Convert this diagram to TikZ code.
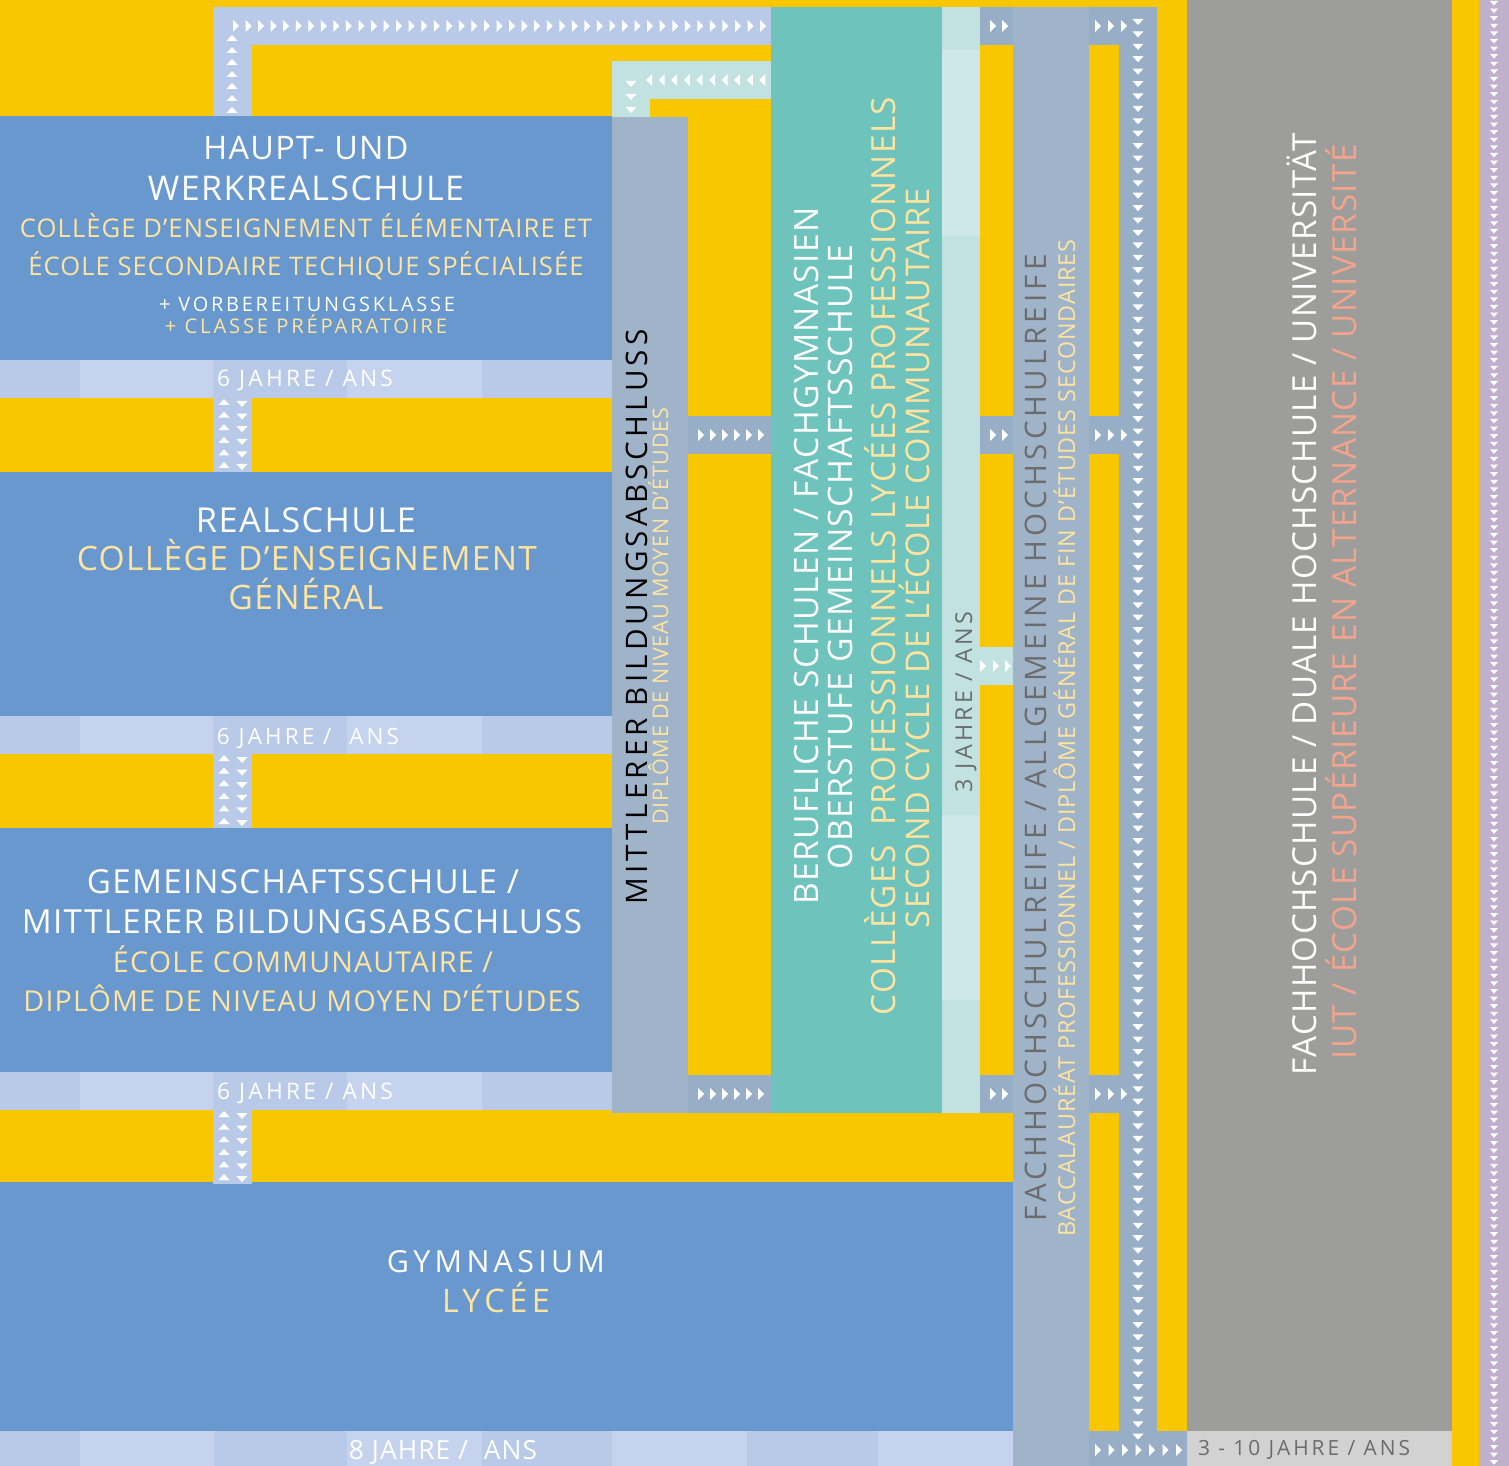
\documentclass[tikz,border=0pt]{standalone}
\usepackage{fontspec}
\usepackage{graphicx}
\setmainfont[LetterSpace=4]{Open Sans}
\newfontfamily\widefont[LetterSpace=14]{Open Sans}

\definecolor{yel}{HTML}{F9C700}
\definecolor{boxblue}{HTML}{6898CE}
\definecolor{barA}{HTML}{B9CAE9}
\definecolor{barB}{HTML}{C6D3EE}
\definecolor{colgray}{HTML}{A0B4C9}
\definecolor{band}{HTML}{98AEC7}
\definecolor{tealc}{HTML}{6EC3BC}
\definecolor{ltealA}{HTML}{C1E2E1}
\definecolor{ltealB}{HTML}{CEE8E9}
\definecolor{grayc}{HTML}{9D9D9B}
\definecolor{labgray}{HTML}{D2D2D2}
\definecolor{lav}{HTML}{BFB1CE}
\definecolor{paleyel}{HTML}{FFE4A0}
\definecolor{salmon}{HTML}{F3A48C}
\definecolor{darktxt}{HTML}{6C6C6C}

\newlength\pxu
\setlength\pxu{0.02cm}
\newcommand\fit[2]{\resizebox{#1\pxu}{!}{#2}}

\tikzset{
  htxt/.style={anchor=base, inner sep=0pt},
  vtxt/.style={anchor=base, inner sep=0pt, rotate=90},
  rtri/.pic={\fill[white] (-3,-6) -- (3,0) -- (-3,6) -- cycle;},
  ltri/.pic={\fill[white] (3,-6) -- (-3,0) -- (3,6) -- cycle;},
  utri/.pic={\fill[white] (-5.5,3) -- (0,-3) -- (5.5,3) -- cycle;},
  dtri/.pic={\fill[white] (-5.5,-3) -- (0,3) -- (5.5,-3) -- cycle;},
  stri/.pic={\fill[white] (-4,-2) -- (0,2.5) -- (4,-2) -- cycle;}
}

\begin{document}
\begin{tikzpicture}[x=0.02cm,y=-0.02cm]
        % Background
        \fill[yel] (0,0) rectangle (1509,1466);
        \useasboundingbox (0,0) rectangle (1509,1466);

        % School blocks
        \fill[boxblue] (0,116) rectangle (612,360);
        \fill[boxblue] (0,472) rectangle (612,716);
        \fill[boxblue] (0,828) rectangle (612,1072);
        \fill[boxblue] (0,1182) rectangle (1013,1431);

        % Duration bars
        \foreach \y in {360,716,1072}
          \foreach \a/\b/\c in {0/80/barA,80/213/barB,213/347/barA,347/482/barB,482/612/barA}
            \fill[\c] (\a,\y) rectangle (\b,\y+38);
        \foreach \a/\b/\c in {0/80/barA,80/214/barB,214/347/barA,347/482/barB,482/612/barA,612/747/barB,747/878/barA,878/1013/barB}
          \fill[\c] (\a,1431) rectangle (\b,1466);

        % Links between blocks
        \foreach \y in {398,754,1110}
          \fill[barA] (213,\y) rectangle (252,\y+74);
        \fill[barA] (213,7) rectangle (771,45);
        \fill[barA] (213,7) rectangle (252,116);
        \fill[ltealA] (612,61) rectangle (771,99);
        \fill[ltealA] (612,61) rectangle (650,117);

        % Columns
        \fill[colgray] (612,117) rectangle (688,1113);
        \fill[band] (688,416) rectangle (771,454);
        \fill[band] (688,1075) rectangle (771,1113);
        \fill[tealc] (771,7) rectangle (942,1113);
        \foreach \a/\b/\c in {7/50/ltealA,50/236/ltealB,236/815/ltealA,815/1000/ltealB,1000/1113/ltealA}
          \fill[\c] (942,\a) rectangle (980,\b);
        \fill[band] (980,7) rectangle (1013,45);
        \fill[band] (980,416) rectangle (1013,454);
        \fill[band] (980,1075) rectangle (1013,1113);
        \fill[ltealA] (980,647) rectangle (1013,685);
        \fill[colgray] (1013,7) rectangle (1089,1466);
        \fill[band] (1089,7) rectangle (1157,45);
        \fill[band] (1089,416) rectangle (1119,454);
        \fill[band] (1089,1075) rectangle (1119,1113);
        \fill[band] (1089,1431) rectangle (1187,1466);
        \fill[band] (1119,7) rectangle (1157,1466);
        \fill[grayc] (1187,0) rectangle (1452,1431);
        \fill[labgray] (1187,1431) rectangle (1452,1466);
        \fill[lav] (1479,0) rectangle (1509,1466);

        % Arrow marks
        \foreach \i in {0,...,42} \pic at (236+\i*12.55,26) {rtri};
        \foreach \y in {38,50,...,110} \pic at (232,\y) {utri};
        \foreach \i in {0,...,9} \pic at (649+\i*12.6,80) {ltri};
        \foreach \y in {84,97,110} \pic at (631,\y) {dtri};
        \foreach \y in {398,754,1110}
          \foreach \k in {0,...,5} {
            \pic at (224,\y+4+\k*12.6) {utri};
            \pic at (242,\y+6+\k*12.6) {dtri};
          }
        \foreach \i in {0,...,5} {
          \pic at (701+\i*12,435) {rtri};
          \pic at (701+\i*12,1094) {rtri};
        }
        \foreach \y in {26,435,1094} {
          \pic at (993,\y) {rtri};
          \pic at (1005,\y) {rtri};
          \pic at (1098,\y) {rtri};
          \pic at (1111,\y) {rtri};
          \pic at (1124,\y) {rtri};
        }
        \foreach \x in {983,996,1008} \pic at (\x,666) {rtri};
        \foreach \i in {0,...,114} \pic at (1138,22+\i*12.41) {dtri};
        \foreach \i in {0,...,6} \pic at (1098+\i*13.5,1450) {rtri};
        \foreach \i in {0,...,192} \pic at (1494,3+\i*7.6) {stri};

        % Haupt- und Werkrealschule
        \node[htxt, text=white] (haupt1) at (306,160) {\fit{205}{HAUPT- UND}};
        \node[htxt, text=white] (haupt2) at (306,201) {\fit{316}{WERKREALSCHULE}};
        \node[htxt, text=paleyel] (hauptfr1) at (306,238) {\fit{572}{COLLÈGE D’ENSEIGNEMENT ÉLÉMENTAIRE ET}};
        \node[htxt, text=paleyel] (hauptfr2) at (306,276) {\fit{555}{ÉCOLE SECONDAIRE TECHIQUE SPÉCIALISÉE}};
        \node[htxt, text=white] (vorb) at (307,312) {\fit{296}{\widefont + VORBEREITUNGSKLASSE}};
        \node[htxt, text=paleyel] (prep) at (306,334) {\fit{282}{\widefont + CLASSE PRÉPARATOIRE}};
        \node[htxt, text=white] (jahre1) at (305,387) {\fit{176}{\widefont 6 JAHRE / ANS}};

        % Realschule
        \node[htxt, text=white] (real1) at (306,533) {\fit{220}{REALSCHULE}};
        \node[htxt, text=paleyel] (realfr1) at (307,571) {\fit{460}{COLLÈGE D’ENSEIGNEMENT}};
        \node[htxt, text=paleyel] (realfr2) at (306,610) {\fit{155}{GÉNÉRAL}};
        \node[htxt, text=white] (jahre2) at (308,744) {\fit{182}{\widefont 6 JAHRE / ~ANS}};

        % Gemeinschaftsschule
        \node[htxt, text=white] (gem1) at (303,893) {\fit{432}{GEMEINSCHAFTSSCHULE /}};
        \node[htxt, text=white] (gem2) at (302,933) {\fit{560}{MITTLERER BILDUNGSABSCHLUSS}};
        \node[htxt, text=paleyel] (gemfr1) at (303,972) {\fit{380}{ÉCOLE COMMUNAUTAIRE /}};
        \node[htxt, text=paleyel] (gemfr2) at (302,1011) {\fit{557}{DIPLÔME DE NIVEAU MOYEN D’ÉTUDES}};
        \node[htxt, text=white] (jahre3) at (305,1099) {\fit{176}{\widefont 6 JAHRE / ANS}};

        % Gymnasium
        \node[htxt, text=white] (gym1) at (496,1272) {\fit{218}{\widefont GYMNASIUM}};
        \node[htxt, text=paleyel] (gymfr1) at (496,1312) {\fit{108}{\widefont LYCÉE}};
        \node[htxt, text=white] (jahre4) at (443,1459) {\fit{188}{8 JAHRE / ~ANS}};

        % Vertical labels
        \node[vtxt, text=black] (mba1) at (647,617) {\fit{575}{\widefont MITTLERER BILDUNGSABSCHLUSS}};
        \node[vtxt, text=paleyel] (mbafr1) at (668,616) {\fit{417}{DIPLÔME DE NIVEAU MOYEN D’ÉTUDES}};
        \node[vtxt, text=white] (beruf1) at (818,556) {\fit{697}{BERUFLICHE SCHULEN / FACHGYMNASIEN}};
        \node[vtxt, text=white] (beruf2) at (852,557) {\fit{625}{OBERSTUFE GEMEINSCHAFTSSCHULE}};
        \node[vtxt, text=paleyel] (berufr1) at (895,556) {\fit{918}{COLLÈGES ~PROFESSIONNELS LYCÉES PROFESSIONNELS}};
        \node[vtxt, text=paleyel] (berufr2) at (929,558) {\fit{740}{SECOND CYCLE DE L’ÉCOLE COMMUNAUTAIRE}};
        \node[vtxt, text=darktxt] (jahre5) at (972,702) {\fit{180}{\widefont 3 JAHRE / ANS}};
        \node[vtxt, text=darktxt] (fhr1) at (1046,738) {\fit{967}{\widefont FACHHOCHSCHULREIFE / ALLGEMEINE HOCHSCHULREIFE}};
        \node[vtxt, text=paleyel] (fhrfr1) at (1075,738) {\fit{997}{BACCALAURÉAT PROFESSIONNEL / DIPLÔME GÉNÉRAL DE FIN D’ÉTUDES SECONDAIRES}};
        \node[vtxt, text=white] (uni1) at (1316,604) {\fit{942}{FACHHOCHSCHULE / DUALE HOCHSCHULE / UNIVERSITÄT}};
        \node[vtxt, text=salmon] (unifr1) at (1356,602) {\fit{915}{IUT / ÉCOLE SUPÉRIEURE EN ALTERNANCE / UNIVERSITÉ}};

        % Duration of studies
        \node[htxt, text=darktxt] (jahre6) at (1304,1455) {\fit{212}{\widefont 3 - 10 JAHRE / ANS}};

    \end{tikzpicture}
\end{document}
